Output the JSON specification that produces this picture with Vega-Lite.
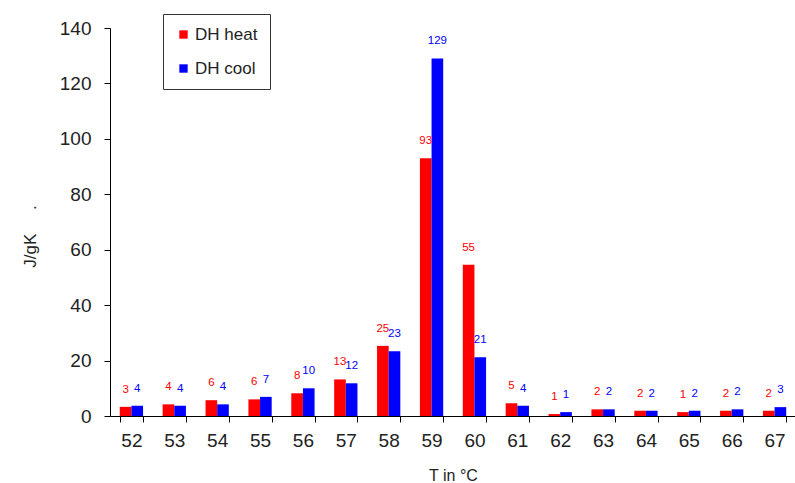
{
  "$schema": "https://vega.github.io/schema/vega-lite/v6.json",
  "autosize": "none",
  "width": 686,
  "height": 388,
  "padding": {"left": 110, "top": 28, "right": 0, "bottom": 67},
  "background": "white",
  "config": {
    "view": {"stroke": null},
    "font": "Liberation Sans",
    "axis": {"domainColor": "#000000", "tickColor": "#000000", "labelColor": "#222222", "titleColor": "#222222", "grid": false, "labelFont": "Liberation Sans", "titleFont": "Liberation Sans", "titleFontWeight": "normal"}
  },
  "data": {
    "values": [
      {"T": "52", "series": "DH heat", "value": 3.3}, {"T": "52", "series": "DH cool", "value": 3.7},
      {"T": "53", "series": "DH heat", "value": 4.2}, {"T": "53", "series": "DH cool", "value": 3.7},
      {"T": "54", "series": "DH heat", "value": 5.7}, {"T": "54", "series": "DH cool", "value": 4.2},
      {"T": "55", "series": "DH heat", "value": 6.0}, {"T": "55", "series": "DH cool", "value": 6.9},
      {"T": "56", "series": "DH heat", "value": 8.2}, {"T": "56", "series": "DH cool", "value": 10.0},
      {"T": "57", "series": "DH heat", "value": 13.2}, {"T": "57", "series": "DH cool", "value": 11.8},
      {"T": "58", "series": "DH heat", "value": 25.3}, {"T": "58", "series": "DH cool", "value": 23.4},
      {"T": "59", "series": "DH heat", "value": 93.0}, {"T": "59", "series": "DH cool", "value": 129.0},
      {"T": "60", "series": "DH heat", "value": 54.6}, {"T": "60", "series": "DH cool", "value": 21.2},
      {"T": "61", "series": "DH heat", "value": 4.6}, {"T": "61", "series": "DH cool", "value": 3.7},
      {"T": "62", "series": "DH heat", "value": 0.7}, {"T": "62", "series": "DH cool", "value": 1.4},
      {"T": "63", "series": "DH heat", "value": 2.4}, {"T": "63", "series": "DH cool", "value": 2.4},
      {"T": "64", "series": "DH heat", "value": 1.9}, {"T": "64", "series": "DH cool", "value": 1.9},
      {"T": "65", "series": "DH heat", "value": 1.4}, {"T": "65", "series": "DH cool", "value": 1.9},
      {"T": "66", "series": "DH heat", "value": 1.9}, {"T": "66", "series": "DH cool", "value": 2.4},
      {"T": "67", "series": "DH heat", "value": 1.9}, {"T": "67", "series": "DH cool", "value": 3.2}
    ]
  },
  "encoding": {
    "x": {
      "field": "T", "type": "nominal",
      "scale": {"paddingInner": 0.457, "paddingOuter": 0.228},
      "axis": {"title": "T in °C", "labelAngle": 0, "labelFontSize": 19, "titleFontSize": 16, "tickSize": 6, "tickBand": "extent", "labelPadding": 9, "titlePadding": 17}
    },
    "xOffset": {"field": "series", "type": "nominal", "sort": ["DH heat", "DH cool"], "scale": {"paddingInner": 0, "paddingOuter": 0}},
    "y": {
      "field": "value", "type": "quantitative",
      "scale": {"domain": [0, 140], "nice": false},
      "axis": {"title": "J/gK\u00a0\u00a0\u00a0\u00a0\u00a0.", "values": [0, 20, 40, 60, 80, 100, 120, 140], "labelFontSize": 19, "titleFontSize": 17, "tickSize": 6, "labelPadding": 13, "titleX": -80, "titleY": 208, "titleAngle": -90, "titleAlign": "center", "titleBaseline": "middle"}
    },
    "color": {
      "field": "series", "type": "nominal", "sort": ["DH heat", "DH cool"],
      "scale": {"domain": ["DH heat", "DH cool"], "range": ["#FF0000", "#0000FF"]}
    }
  },
  "layer": [
    {
      "mark": {"type": "bar"},
      "encoding": {
        "color": {
          "field": "series", "type": "nominal", "sort": ["DH heat", "DH cool"],
          "scale": {"domain": ["DH heat", "DH cool"], "range": ["#FF0000", "#0000FF"]},
          "legend": {"title": null, "orient": "none", "legendX": 53, "legendY": -14, "symbolType": "square", "symbolSize": 70, "symbolStrokeWidth": 0, "labelFontSize": 17, "labelColor": "#222222", "labelFont": "Liberation Sans", "padding": 12, "rowPadding": 16, "labelOffset": 3, "strokeColor": "#333333", "fillColor": "white"}
        }
      }
    },
    {
      "mark": {"type": "text", "fontSize": 11.5, "dy": -14, "baseline": "alphabetic", "font": "Liberation Sans"},
      "encoding": {
        "text": {"field": "value", "type": "quantitative", "format": ".0f"},
        "color": {
          "field": "series", "type": "nominal", "sort": ["DH heat", "DH cool"],
          "scale": {"domain": ["DH heat", "DH cool"], "range": ["#FF0000", "#0000FF"]},
          "legend": null
        }
      }
    }
  ]
}
